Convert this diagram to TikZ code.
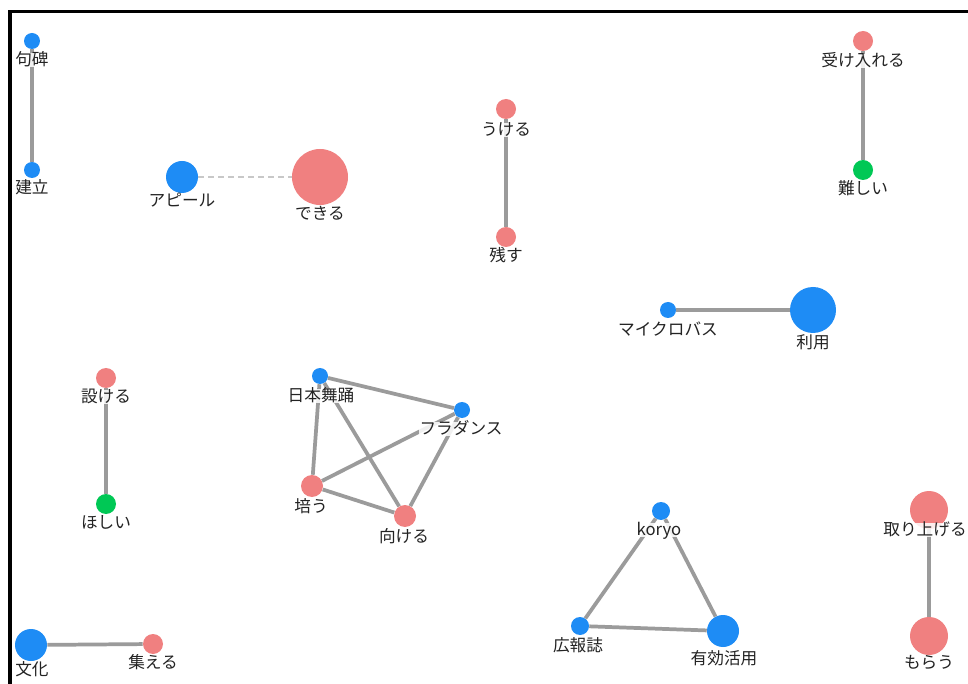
\documentclass[tikz,border=0pt]{standalone}
\usepackage{fontspec}
\newfontfamily\jp{Noto Sans CJK JP}
\definecolor{nblue}{RGB}{30,140,245}
\definecolor{nred}{RGB}{240,128,128}
\definecolor{ngreen}{RGB}{0,200,85}
\definecolor{egray}{RGB}{155,155,155}
\definecolor{dgray}{RGB}{200,200,200}
\definecolor{tgray}{RGB}{35,35,35}
\tikzset{
  nd/.style 2 args={circle, fill=#1, draw=none, minimum size=#2*1.5pt, inner sep=0pt},
  lbl/.style={font=\jp\fontsize{12.5pt}{14pt}\selectfont, text=tgray, inner sep=0.5pt,
    text height=0.88em, text depth=0.12em, anchor=center, fill=white, fill opacity=0.85, text opacity=1},
  edge/.style={draw=egray, line width=2.8pt},
  dedge/.style={draw=dgray, line width=1.1pt, dash pattern=on 4.5pt off 3pt},
  frame/.style={draw=black, line width=2.3pt}
}
\begin{document}
\begin{tikzpicture}[x=0.75pt, y=-0.75pt]
\useasboundingbox (0,0) rectangle (968,684);
\fill[white] (0,0) rectangle (968,684);
\coordinate (fa) at (10,684);
\coordinate (fb) at (10,11.5);
\coordinate (fc) at (968,11.5);
\draw[frame] (fa) -- (fb) -- (fc);

% nodes
\node[nd={nblue}{8}]  (a1) at (32,41) {};
\node[nd={nblue}{8}]  (a2) at (32,170) {};
\node[nd={nblue}{16}] (b1) at (182,177) {};
\node[nd={nred}{28}]  (b2) at (320,177) {};
\node[nd={nred}{10}]  (c1) at (506,109) {};
\node[nd={nred}{10}]  (c2) at (506,237) {};
\node[nd={nred}{10}]  (d1) at (863,41) {};
\node[nd={ngreen}{10}] (d2) at (863,170) {};
\node[nd={nblue}{8}]  (e1) at (668,310) {};
\node[nd={nblue}{23}] (e2) at (813,310) {};
\node[nd={nred}{10}]  (f1) at (106,378) {};
\node[nd={ngreen}{10}] (f2) at (106,504) {};
\node[nd={nblue}{8}]  (g1) at (320,376) {};
\node[nd={nblue}{8}]  (g2) at (462,410) {};
\node[nd={nred}{11}]  (g3) at (312,486) {};
\node[nd={nred}{11}]  (g4) at (405,516) {};
\node[nd={nblue}{16}] (h1) at (31,645) {};
\node[nd={nred}{10}]  (h2) at (153,644) {};
\node[nd={nblue}{9}]  (i1) at (661,511) {};
\node[nd={nblue}{9}]  (i2) at (580,626) {};
\node[nd={nblue}{16}] (i3) at (723,631) {};
\node[nd={nred}{19}]  (j1) at (929,510) {};
\node[nd={nred}{19}]  (j2) at (929,636) {};

% edges
\draw[edge] (a1) -- (a2);
\draw[dedge] (b1) -- (b2);
\draw[edge] (c1) -- (c2);
\draw[edge] (d1) -- (d2);
\draw[edge] (e1) -- (e2);
\draw[edge] (f1) -- (f2);
\draw[edge] (g1) -- (g2);
\draw[edge] (g1) -- (g3);
\draw[edge] (g1) -- (g4);
\draw[edge] (g2) -- (g3);
\draw[edge] (g2) -- (g4);
\draw[edge] (g3) -- (g4);
\draw[edge] (h1) -- (h2);
\draw[edge] (i1) -- (i2);
\draw[edge] (i1) -- (i3);
\draw[edge] (i2) -- (i3);
\draw[edge] (j1) -- (j2);

% labels
\node[lbl] (la1) at (32,60) {句碑};
\node[lbl] (la2) at (32,188) {建立};
\node[lbl] (lb1) at (182,201) {アピール};
\node[lbl] (lb2) at (320,214) {できる};
\node[lbl] (lc1) at (506,130) {うける};
\node[lbl] (lc2) at (506,256) {残す};
\node[lbl] (ld1) at (863,61) {受け入れる};
\node[lbl] (ld2) at (863,189) {難しい};
\node[lbl] (le1) at (668,330) {マイクロバス};
\node[lbl] (le2) at (813,343) {利用};
\node[lbl] (lf1) at (106,397) {設ける};
\node[lbl] (lf2) at (106,523) {ほしい};
\node[lbl] (lg1) at (321,396) {日本舞踊};
\node[lbl] (lg2) at (461,429) {フラダンス};
\node[lbl] (lg3) at (311,507) {培う};
\node[lbl] (lg4) at (404,537) {向ける};
\node[lbl] (lh1) at (32,670) {文化};
\node[lbl] (lh2) at (153,663) {集える};
\node[lbl] (li1) at (659,530) {koryo};
\node[lbl] (li2) at (578,646) {広報誌};
\node[lbl] (li3) at (724,659) {有効活用};
\node[lbl] (lj1) at (925,530) {取り上げる};
\node[lbl] (lj2) at (929,663) {もらう};
\end{tikzpicture}
\end{document}
